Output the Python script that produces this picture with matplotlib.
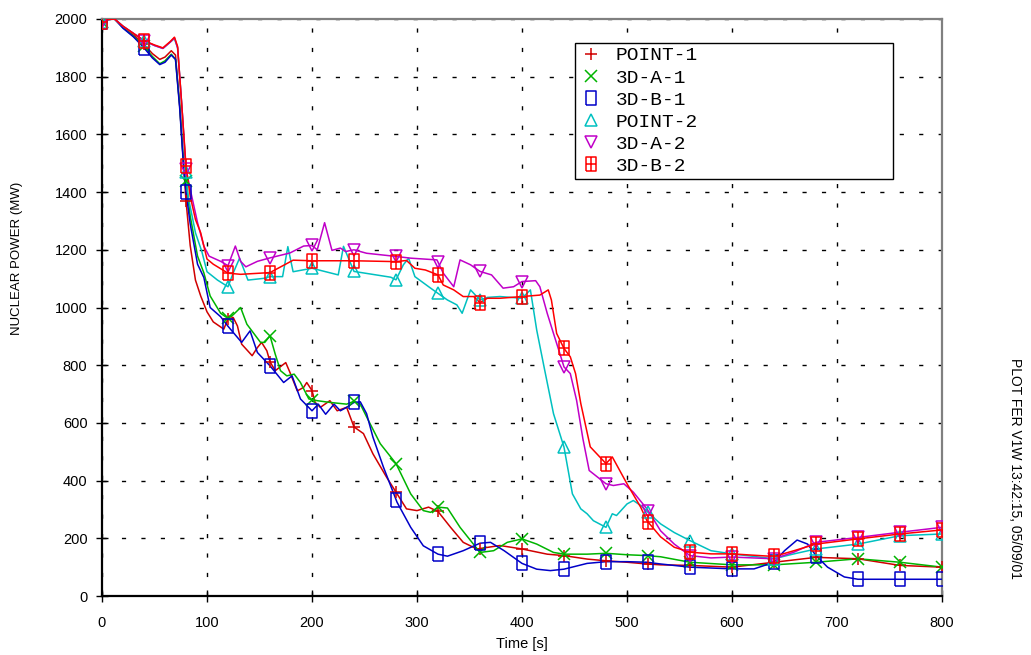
import numpy as np
import matplotlib
matplotlib.use("Agg")
import matplotlib.pyplot as plt
from matplotlib.path import Path

plt.rcParams["font.family"] = ["Liberation Sans", "DejaVu Sans"]

# ---- data: time [s] / nuclear power [MW] ----
t_point1 = [0, 5, 12, 20, 30, 40, 48, 55, 60, 66, 70, 74, 78, 80, 84, 89, 94, 100, 106, 116,
            121, 125, 129, 133, 143, 148, 152, 157, 160, 165, 175, 179, 186, 192, 195, 200,
            203, 208, 217, 224, 233, 240, 249, 258, 271, 280, 290, 300, 311, 320, 332, 344,
            357, 379, 400, 424, 440, 462, 480, 500, 519, 532, 560, 600, 640, 680, 720, 760, 800]
p_point1 = [1990, 1998, 2000, 1972, 1945, 1912, 1880, 1860, 1868, 1890, 1875, 1700, 1480, 1370,
            1215, 1095, 1040, 985, 950, 925, 970, 965, 936, 873, 833, 861, 879, 850, 812, 781,
            809, 775, 711, 723, 740, 712, 671, 654, 677, 642, 654, 586, 563, 493, 412, 360,
            302, 296, 308, 293, 238, 186, 163, 175, 163, 145, 140, 128, 122, 117, 111, 108,
            106, 100, 117, 134, 129, 106, 100]

t_3da1 = [0, 5, 12, 20, 30, 40, 48, 55, 60, 66, 70, 74, 78, 80, 84, 91, 97, 103, 113, 120, 125,
          132, 138, 151, 155, 160, 165, 170, 176, 183, 189, 197, 205, 217, 233, 240, 246, 252,
          265, 280, 294, 306, 313, 320, 329, 341, 360, 373, 386, 400, 414, 430, 440, 462, 480,
          500, 519, 532, 560, 600, 640, 680, 720, 760, 800]
p_3da1 = [1990, 1998, 2000, 1970, 1940, 1905, 1870, 1845, 1855, 1878, 1860, 1700, 1480, 1440,
          1317, 1178, 1120, 1040, 980, 962, 975, 1000, 942, 879, 879, 902, 838, 781, 763, 769,
          740, 683, 677, 671, 665, 675, 665, 621, 528, 459, 354, 296, 290, 308, 305, 238, 151,
          157, 186, 198, 180, 151, 145, 145, 148, 143, 140, 136, 117, 108, 108, 117, 129, 117, 100]

t_3db1 = [0, 5, 12, 20, 30, 40, 48, 55, 60, 66, 70, 74, 78, 80, 84, 91, 97, 103, 113, 120, 133,
          141, 148, 160, 173, 181, 189, 200, 206, 213, 221, 227, 233, 240, 246, 252, 258, 268,
          281, 294, 306, 320, 329, 344, 360, 370, 383, 400, 414, 427, 440, 462, 480, 500, 519,
          532, 560, 600, 621, 640, 650, 662, 672, 680, 691, 707, 720, 760, 800]
p_3db1 = [1990, 1998, 2000, 1968, 1938, 1900, 1865, 1842, 1850, 1875, 1860, 1690, 1470, 1400,
          1290, 1150, 1104, 1000, 968, 935, 879, 919, 844, 798, 740, 763, 683, 642, 665, 630,
          665, 642, 654, 671, 673, 632, 551, 447, 325, 238, 174, 145, 138, 157, 183, 186, 157,
          113, 93, 88, 93, 113, 119, 119, 117, 111, 100, 94, 94, 117, 157, 194, 180, 140, 100,
          66, 58, 58, 58]

t_point2 = [0, 5, 12, 20, 30, 40, 50, 58, 65, 69, 72, 76, 80, 82, 89, 95, 100, 110, 120, 125,
            131, 139, 154, 160, 172, 177, 182, 200, 225, 230, 240, 275, 280, 287, 292, 298, 313,
            320, 329, 338, 343, 351, 360, 367, 379, 400, 408, 414, 421, 430, 440, 448, 456, 462,
            468, 480, 486, 490, 500, 506, 513, 525, 532, 545, 560, 580, 600, 640, 659, 680, 720,
            760, 800]
p_point2 = [1990, 1998, 2000, 1975, 1950, 1925, 1908, 1898, 1920, 1932, 1900, 1700, 1470, 1386,
            1259, 1195, 1124, 1095, 1072, 1120, 1171, 1095, 1101, 1107, 1107, 1211, 1124, 1136,
            1113, 1212, 1125, 1105, 1096, 1148, 1171, 1107, 1067, 1049, 1026, 1009, 980, 1061,
            1026, 1035, 1038, 1032, 1061, 922, 794, 632, 516, 354, 302, 285, 261, 238, 285, 279,
            319, 331, 314, 273, 250, 220, 192, 157, 146, 129, 146, 163, 180, 209, 215]

t_3da2 = [0, 5, 12, 20, 30, 40, 50, 58, 65, 69, 72, 76, 80, 84, 91, 97, 102, 113, 120, 127, 132,
          137, 148, 160, 179, 192, 200, 205, 212, 219, 227, 232, 240, 252, 280, 294, 319, 325,
          335, 341, 351, 360, 371, 382, 392, 400, 413, 417, 424, 430, 436, 440, 446, 452, 458,
          464, 480, 487, 497, 506, 519, 532, 545, 560, 580, 600, 640, 659, 680, 720, 760, 800]
p_3da2 = [1990, 1998, 2000, 1975, 1950, 1925, 1908, 1898, 1920, 1935, 1900, 1700, 1480, 1410,
          1294, 1213, 1178, 1160, 1145, 1213, 1160, 1141, 1160, 1172, 1189, 1213, 1215, 1200,
          1294, 1198, 1206, 1194, 1200, 1188, 1177, 1171, 1165, 1119, 1072, 1165, 1148, 1125,
          1113, 1067, 1072, 1090, 1093, 1072, 980, 910, 841, 794, 771, 678, 545, 435, 389, 383,
          389, 360, 302, 226, 180, 140, 132, 135, 129, 152, 186, 203, 221, 238]

t_3db2 = [0, 5, 12, 20, 30, 40, 50, 58, 65, 69, 72, 76, 80, 84, 89, 94, 97, 100, 106, 120, 132,
          160, 182, 200, 240, 280, 290, 298, 308, 320, 325, 335, 344, 354, 360, 367, 379, 400,
          417, 425, 428, 433, 440, 446, 451, 456, 465, 480, 486, 500, 513, 519, 532, 545, 560,
          580, 600, 640, 659, 680, 720, 760, 800]
p_3db2 = [1990, 1998, 2000, 1975, 1950, 1925, 1910, 1900, 1922, 1937, 1905, 1700, 1490, 1386,
          1305, 1259, 1213, 1168, 1150, 1119, 1115, 1121, 1164, 1162, 1162, 1159, 1163, 1136,
          1130, 1113, 1078, 1061, 1038, 1038, 1017, 1032, 1032, 1038, 1043, 1061, 1026, 910,
          858, 829, 771, 667, 517, 459, 482, 389, 308, 261, 205, 169, 152, 146, 146, 137, 157,
          180, 198, 215, 229]

labels = ["POINT-1", "3D-A-1", "3D-B-1", "POINT-2", "3D-A-2", "3D-B-2"]
marker_times = np.arange(0, 801, 40)

# tall open rectangle and rectangle with a cross inside
rect = Path([(-0.7, -1), (0.7, -1), (0.7, 1), (-0.7, 1), (-0.7, -1)])
rect_plus = Path([(-0.7, -1), (0.7, -1), (0.7, 1), (-0.7, 1), (-0.7, -1),
                  (0, -1), (0, 1), (-0.7, 0), (0.7, 0)],
                 [Path.MOVETO, Path.LINETO, Path.LINETO, Path.LINETO, Path.LINETO,
                  Path.MOVETO, Path.LINETO, Path.MOVETO, Path.LINETO])

series = [
    (t_point1, p_point1, "#d00000", "+", 9),
    (t_3da1, p_3da1, "#00b400", "x", 8),
    (t_3db1, p_3db1, "#0000c8", rect, 10),
    (t_point2, p_point2, "#00c0c0", "^", 9),
    (t_3da2, p_3da2, "#c000c8", "v", 9),
    (t_3db2, p_3db2, "#ff0000", rect_plus, 10),
]

fig = plt.figure(figsize=(10.31, 6.55), dpi=100)
ax = fig.add_axes([102 / 1031, 1 - 596 / 655, 840 / 1031, 577 / 655])

handles = []
for (t, p, c, m, ms), lab in zip(series, labels):
    ax.plot(t, p, color=c, lw=1.1, zorder=3)
    mk, = ax.plot(marker_times, np.interp(marker_times, t, p), linestyle="none",
                  marker=m, ms=ms, mfc="none", mec=c, mew=1.1, zorder=4, label=lab)
    handles.append(mk)

ax.set_xlim(0, 800)
ax.set_ylim(0, 2000)
ax.set_xticks(np.arange(0, 801, 100))
ax.set_yticks(np.arange(0, 2001, 200))
ax.grid(True, color="black", linestyle=(0, (3, 11)), lw=1.0)
ax.tick_params(direction="inout", length=9, width=1, labelsize=10.5)
ax.tick_params(axis="x", pad=10)
ax.tick_params(axis="y", pad=6)

for side in ["left", "bottom"]:
    ax.spines[side].set_linewidth(1.6)
for side in ["top", "right"]:
    ax.spines[side].set_color("#808080")
    ax.spines[side].set_linewidth(1.6)

ax.set_xlabel("Time [s]", fontsize=10.5)
ax.xaxis.set_label_coords((522 - 102) / 840, -(637 - 596) / 577)
ax.set_ylabel("NUCLEAR POWER (MW)", fontsize=9.5)
ax.yaxis.set_label_coords((23 - 102) / 840, (596 - 258) / 577)

leg = ax.legend(handles=handles, loc="upper left",
                bbox_to_anchor=(575 / 1031, 1 - 43 / 655, 318 / 1031, 0),
                bbox_transform=fig.transFigure, mode="expand", borderaxespad=0,
                prop={"family": "Liberation Mono", "size": 14},
                frameon=True, fancybox=False, framealpha=1, edgecolor="black",
                borderpad=0.2, labelspacing=0.23, handlelength=1.2, handletextpad=0.7)
leg.get_frame().set_linewidth(1.0)

fig.text(1015 / 1031, 1 - 468 / 655, "PLOT FER V1W 13:42:15, 05/09/01",
         rotation=270, ha="center", va="center", fontsize=10)

fig.savefig("out.png", dpi=100)
